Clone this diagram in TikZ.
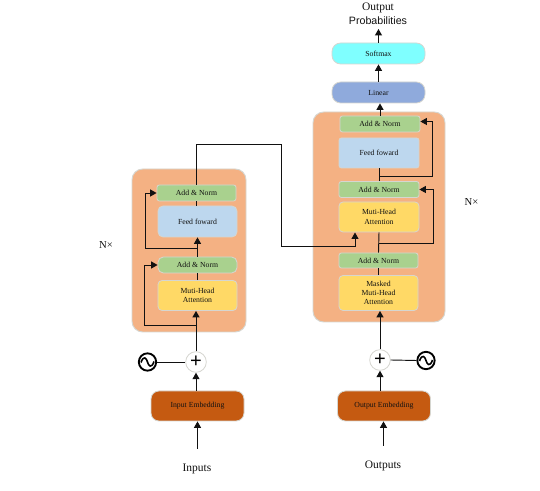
\documentclass[tikz,border=0pt]{standalone}
\usepackage{fontspec}
\setmainfont{Liberation Serif}
\newfontfamily\lsans{Liberation Sans}
\usetikzlibrary{arrows.meta,calc}
\definecolor{panelc}{HTML}{F4B183}
\definecolor{yelc}{HTML}{FFD966}
\definecolor{grnc}{HTML}{A9D18E}
\definecolor{bluc}{HTML}{BDD7EE}
\definecolor{cyac}{HTML}{7FFFFF}
\definecolor{linc}{HTML}{8FAADC}
\definecolor{embc}{HTML}{C55A11}
\definecolor{edgc}{HTML}{D6D6D0}
\definecolor{inkc}{HTML}{111111}
\tikzset{
  x=0.75pt,y=-0.75pt,
  box/.style args={#1/#2/#3}{draw=edgc,line width=0.6pt,minimum width=#1*0.75pt,minimum height=#2*0.75pt,inner sep=0pt,align=center,font=\fontsize{5.8}{7}\selectfont,text=inkc,fill=#3},
  panelbox/.style 2 args={draw=edgc,line width=0.7pt,fill=panelc,rounded corners=8pt,minimum width=#1*0.75pt,minimum height=#2*0.75pt,inner sep=0pt},
  gbox/.style 2 args={box=#1/#2/grnc,rounded corners=1.8pt},
  fbox/.style 2 args={box=#1/#2/bluc,rounded corners=#2*0.12pt},
  ybox/.style 2 args={box=#1/#2/yelc,rounded corners=3pt},
  topbox/.style={box=93/21/#1,rounded corners=6.5pt},
  embbox/.style={box=93/30/embc,rounded corners=6pt},
  conn/.style={draw=inkc,line width=0.7pt},
  arr/.style={conn,-{Triangle[length=4.8pt,width=5.2pt]}},
  plus/.style={circle,draw=edgc,fill=white,line width=0.6pt,minimum size=15.5pt,inner sep=0pt,font=\lsans\fontsize{15}{15}\selectfont},
  wave/.style={circle,draw=black,fill=white,line width=1.4pt,minimum size=13pt,inner sep=0pt},
  lab/.style={font=\fontsize{8.6}{10}\selectfont,text=inkc,inner sep=0pt},
}
\newcommand{\sinewave}[1]{\draw[black,line width=1.2pt] ($(#1)+(-6.5,0.5)$) .. controls ($(#1)+(-4,-7)$) and ($(#1)+(-1,-4)$) .. ($(#1)+(0,0)$) .. controls ($(#1)+(1,4)$) and ($(#1)+(4,7)$) .. ($(#1)+(6.5,-0.5)$);}
\begin{document}
\begin{tikzpicture}
\useasboundingbox (0,0) rectangle (540,491);
\fill[white] (0,0) rectangle (540,491);
% panels
\node[panelbox={114}{163}] (lp) at (189,250.5) {};
\node[panelbox={132}{210}] (rp) at (379,217) {};
% left stack
\node[gbox={79}{16}] (lan2) at (196.5,193) {Add \& Norm};
\node[fbox={79}{31}] (lff) at (197.5,221.5) {Feed foward};
\node[gbox={79}{16}, rounded corners=4pt] (lan1) at (197.5,265) {Add \& Norm};
\node[ybox={79}{30}] (lmh) at (197.5,295.5) {Muti-Head\\Attention};
% right stack
\node[topbox=cyac] (soft) at (378.5,53.5) {Softmax};
\node[topbox=linc] (lin) at (378.5,92.5) {Linear};
\node[gbox={80}{16}] (ran3) at (380,124) {Add \& Norm};
\node[fbox={80}{30},rounded corners=1.8pt] (rff) at (379,153) {Feed foward};
\node[gbox={80}{16}] (ran2) at (379,189.5) {Add \& Norm};
\node[ybox={80}{30}] (rmh) at (379,217) {Muti-Head\\Attention};
\node[gbox={79}{15}] (ran1) at (378.5,260.5) {Add \& Norm};
\node[ybox={79}{35}] (rmm) at (378.5,293) {Masked\\Muti-Head\\Attention};
% embeddings
\node[embbox] (lemb) at (197.5,406) {Input Embedding};
\node[embbox] (remb) at (384,406) {Output Embedding};
% circles
\node[plus] (lplus) at (196,362) {+};
\node[plus] (rplus) at (380,360) {+};
\node[wave] (lw) at (147.5,362) {};
\node[wave] (rw) at (426,360.5) {};
\sinewave{lw}
\sinewave{rw}
% labels
\node[lab] (inp) at (197,468.5) {Inputs};
\node[lab] (outp) at (383,465.5) {Outputs};
\node[lab] (oa) at (378,7.5) {Output};
\node[lab,font=\lsans\fontsize{8}{10}\selectfont] (ob) at (378,21) {Probabilities};
\node[lab,font=\fontsize{8}{10}\selectfont] (nl) at (106,245) {N×};
\node[lab,font=\fontsize{8}{10}\selectfont] (nr) at (471.5,202) {N×};
% named free ends and bends
\coordinate (inS) at (197.5,449);
\coordinate (outS) at (383.5,446);
\coordinate (lj1) at (197,325);
\coordinate (lj1c) at (144,325);
\coordinate (lj2) at (197,248);
\coordinate (lj2c) at (145.5,248);
\coordinate (xa) at (196,144);
\coordinate (xb) at (281,144);
\coordinate (xc) at (281,246);
\coordinate (xd) at (355,246);
\coordinate (xe) at (355,232.5);
\coordinate (rj1) at (379,243);
\coordinate (rj1c) at (433,243);
\coordinate (rj1e) at (433,189.5);
\coordinate (rj2) at (379,176);
\coordinate (rj2c) at (432,176);
\coordinate (rj2e) at (432,121.5);
\coordinate (ot) at (378.5,29);
% connectors
\draw[arr] (inS) -- (lemb.south);
\draw[arr] (outS) -- (remb.south -| outS);
\draw[arr] (lemb.north -| lplus) -- (lplus.south);
\draw[arr] (remb.north -| rplus) -- (rplus.south);
\draw[conn] (lw.east) -- (lplus.west);
\draw[conn] (rw.west) -- (rplus.east);
\draw[arr] (lplus.north) -- (lmh.south -| lplus);
\draw[arr] (rplus.north) -- (rmm.south -| rplus);
\draw[conn] (lmh.north) -- (lan1.south);
\draw[arr] (lan1.north) -- (lff.south);
\draw[conn] (lff.north -| lan2) -- (lan2.south);
\draw[arr] (lj1) -- (lj1c) -- (lj1c |- lan1.west) -- (lan1.west);
\draw[arr] (lj2) -- (lj2c) -- (lj2c |- lan2.west) -- (lan2.west);
\draw[conn] (rmm.north) -- (ran1.south);
\draw[conn] (ran1.north) -- (rmh.south);
\draw[conn] (ran2.north) -- (rff.south);
\draw[arr] (rj1) -- (rj1c) -- (rj1e) -- (ran2.east);
\draw[arr] (rj2) -- (rj2c) -- (rj2e) -- (ran3.east |- rj2e);
\draw[arr] (xa) -- (xb) -- (xc) -- (xd) -- (xe);
\draw[conn] (lan2.north -| xa) -- (xa);
\draw[arr] (ran3.north) -- (lin.south -| ran3);
\draw[arr] (lin.north) -- (soft.south);
\draw[arr] (soft.north) -- (ot);
\end{tikzpicture}
\end{document}
